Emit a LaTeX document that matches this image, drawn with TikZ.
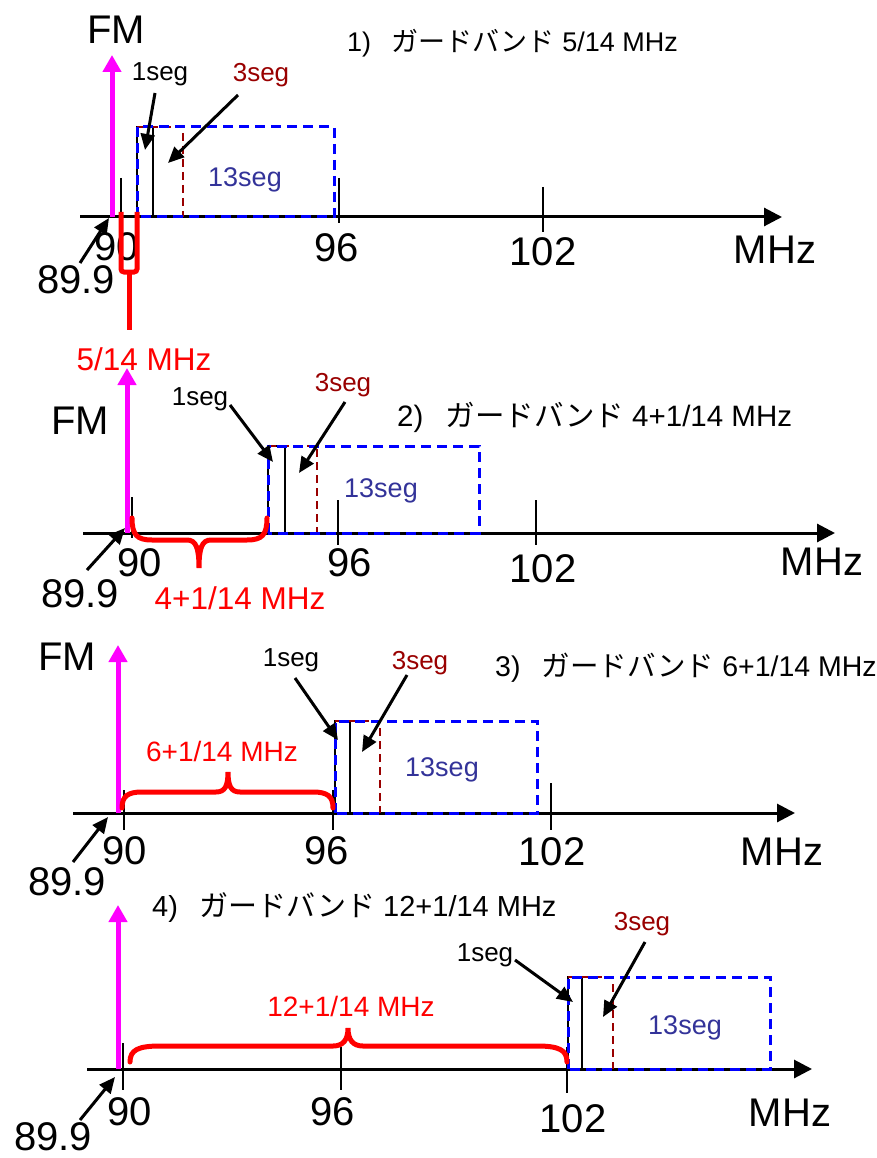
\documentclass[tikz,border=0pt]{standalone}
\usepackage{fontspec}
\setmainfont{Liberation Sans}
\newfontfamily\cjk{Noto Sans CJK JP}
\usetikzlibrary{arrows.meta}
\definecolor{darkred}{RGB}{153,0,0}
\definecolor{segblue}{RGB}{51,51,153}
\definecolor{fmmag}{RGB}{255,0,255}
\definecolor{bandred}{RGB}{255,0,0}
\definecolor{dashblue}{RGB}{0,0,255}
\tikzset{
  axisline/.style={line width=3pt,-{Triangle[length=18pt,width=18pt]}},
  tickline/.style={line width=2pt},
  fmarrow/.style={draw=fmmag,line width=5pt,-{Triangle[length=17pt,width=18pt]}},
  ptr/.style={line width=3pt,-{Triangle[length=16pt,width=14pt]}},
  segone/.style={line width=2.2pt},
  segthree/.style={draw=darkred,line width=2.8pt,dash pattern=on 8pt off 5pt},
  segthirteen/.style={draw=dashblue,line width=3pt,dash pattern=on 10pt off 6pt},
  bandbrace/.style={draw=bandred,line width=5pt,line cap=round},
  big/.style={font=\fontsize{40}{40}\selectfont,inner sep=0pt,text depth=0pt},
  seglbl/.style={font=\fontsize{26}{26}\selectfont,inner sep=0pt,text depth=0pt},
  thirteen/.style={font=\fontsize{27}{27}\selectfont,inner sep=0pt,text depth=0pt,text=segblue},
  redlbl/.style={font=\fontsize{28}{28}\selectfont,inner sep=0pt,text depth=0pt,text=bandred},
  titlelbl/.style={inner sep=0pt,text depth=0pt,anchor=west},
}
\begin{document}
\begin{tikzpicture}[x=1pt,y=-1pt]
\useasboundingbox (0,0) rectangle (877,1158);

% ================= Panel 1 =================
\coordinate (ax1s) at (80,217); \coordinate (ax1e) at (782,217);
\draw[axisline] (ax1s) -- (ax1e);
\coordinate (k1a) at (121,178); \coordinate (k1b) at (121,217);
\coordinate (k1c) at (339,178); \coordinate (k1d) at (339,223);
\coordinate (k1e) at (543,187); \coordinate (k1f) at (543,232);
\draw[tickline] (k1a) -- (k1b); \draw[tickline] (k1c) -- (k1d); \draw[tickline] (k1e) -- (k1f);
\draw[segone] (137,217) rectangle (153,127);
\draw[segthree] (137,127) -- (183,127) -- (183,217);
\draw[segthirteen] (137,217) rectangle (334,127);
\node[big] (fm1) at (116,30) {FM};
\node[titlelbl,font=\fontsize{27}{27}\selectfont] (title1) at (347,40) {1)\hspace{0.75em}{\cjk ガードバンド} 5/14 MHz};
\node[big] (n90a) at (117,247) {90};
\node[big] (n96a) at (337,248) {96};
\node[big] (n102a) at (543,252) {102};
\node[big] (mhza) at (775,250) {MHz};
\node[big] (n899a) at (76,280) {89.9};
\node[thirteen] (s13a) at (245,177) {13seg};
\node[seglbl] (s1a) at (160,72) {1seg};
\node[seglbl,text=darkred] (s3a) at (261,72) {3seg};
\coordinate (p1a) at (155,93); \coordinate (q1a) at (145,150);
\coordinate (p3a) at (238,95); \coordinate (q3a) at (168,163);
\draw[ptr] (p1a) -- (q1a);
\draw[ptr] (p3a) -- (q3a);
\coordinate (fb1) at (112,217); \coordinate (ft1) at (112,55);
\draw[fmarrow] (fb1) -- (ft1);
\coordinate (g1s) at (80,263); \coordinate (g1t) at (109,218);
\draw[ptr] (g1s) -- (g1t);
\draw[bandbrace,rounded corners=3pt,line cap=butt] (121,212) -- (121,272) -- (137,272) -- (137,212);
\draw[bandbrace,line cap=butt] (129,272) -- (129,330);
\node[redlbl,font=\fontsize{31.5}{31.5}\selectfont] (r1) at (144,359) {5/14 MHz};

% ================= Panel 2 =================
\coordinate (ax2s) at (83,533); \coordinate (ax2e) at (835,533);
\draw[axisline] (ax2s) -- (ax2e);
\coordinate (k2a) at (132,497); \coordinate (k2b) at (132,538);
\coordinate (k2c) at (338,500); \coordinate (k2d) at (338,545);
\coordinate (k2e) at (536,500); \coordinate (k2f) at (536,545);
\draw[tickline] (k2a) -- (k2b); \draw[tickline] (k2c) -- (k2d); \draw[tickline] (k2e) -- (k2f);
\draw[segone] (268,533) rectangle (285,446);
\draw[segthree] (268,446) -- (317,446) -- (317,533);
\draw[segthirteen] (268,533) rectangle (479,446);
\node[big] (fm2) at (80,421) {FM};
\node[titlelbl,font=\fontsize{29.5}{29.5}\selectfont] (title2) at (397,414) {2)\hspace{0.75em}{\cjk ガードバンド} 4+1/14 MHz};
\node[big] (n90b) at (140,563) {90};
\node[big] (n96b) at (350,563) {96};
\node[big] (n102b) at (543,569) {102};
\node[big] (mhzb) at (822,562) {MHz};
\node[big] (n899b) at (80,594) {89.9};
\node[thirteen] (s13b) at (381,488) {13seg};
\node[seglbl] (s1b) at (200,397) {1seg};
\node[seglbl,text=darkred] (s3b) at (343,382) {3seg};
\coordinate (p1b) at (230,405); \coordinate (q1b) at (273,462);
\coordinate (p3b) at (345,402); \coordinate (q3b) at (299,473);
\draw[ptr] (p1b) -- (q1b);
\draw[ptr] (p3b) -- (q3b);
\coordinate (fb2) at (127,533); \coordinate (ft2) at (127,368);
\draw[fmarrow] (fb2) -- (ft2);
\coordinate (g2s) at (87,570); \coordinate (g2t) at (125,528);
\draw[ptr] (g2s) -- (g2t);
\draw[bandbrace] (132,518) .. controls (132,535) and (137,540) .. (152,540) -- (187,540) .. controls (196,540) and (199,548) .. (199,568) .. controls (199,548) and (202,540) .. (211,540) -- (247,540) .. controls (262,540) and (267,535) .. (267,518);
\node[redlbl,font=\fontsize{31.5}{31.5}\selectfont] (r2) at (240,598) {4+1/14 MHz};

% ================= Panel 3 =================
\coordinate (ax3s) at (73,813); \coordinate (ax3e) at (795,813);
\draw[axisline] (ax3s) -- (ax3e);
\coordinate (k3a) at (124,790); \coordinate (k3b) at (124,830);
\coordinate (k3c) at (333,790); \coordinate (k3d) at (333,830);
\coordinate (k3e) at (551,783); \coordinate (k3f) at (551,830);
\draw[tickline] (k3a) -- (k3b); \draw[tickline] (k3c) -- (k3d); \draw[tickline] (k3e) -- (k3f);
\draw[segone] (335,813) rectangle (350,721);
\draw[segthree] (335,721) -- (380,721) -- (380,813);
\draw[segthirteen] (335,813) rectangle (537,721);
\node[big] (fm3) at (67,657) {FM};
\node[titlelbl,font=\fontsize{28.5}{28.5}\selectfont] (title3) at (495,665) {3)\hspace{0.75em}{\cjk ガードバンド} 6+1/14 MHz};
\node[big] (n90c) at (125,851) {90};
\node[big] (n96c) at (327,851) {96};
\node[big] (n102c) at (552,852) {102};
\node[big] (mhzc) at (782,852) {MHz};
\node[big] (n899c) at (67,882) {89.9};
\node[thirteen] (s13c) at (442,767) {13seg};
\node[seglbl] (s1c) at (291,658) {1seg};
\node[seglbl,text=darkred] (s3c) at (420,660) {3seg};
\coordinate (p1c) at (295,678); \coordinate (q1c) at (338,740);
\coordinate (p3c) at (407,675); \coordinate (q3c) at (362,752);
\draw[ptr] (p1c) -- (q1c);
\draw[ptr] (p3c) -- (q3c);
\coordinate (fb3) at (118,813); \coordinate (ft3) at (118,645);
\draw[fmarrow] (fb3) -- (ft3);
\coordinate (g3s) at (73,862); \coordinate (g3t) at (108,817);
\draw[ptr] (g3s) -- (g3t);
\draw[bandbrace] (122,808) .. controls (122,796) and (128,792) .. (142,792) -- (216,792) .. controls (225,792) and (228,786) .. (228,772) .. controls (228,786) and (231,792) .. (240,792) -- (313,792) .. controls (327,792) and (333,796) .. (333,808);
\node[redlbl] (r3) at (222,751) {6+1/14 MHz};

% ================= Panel 4 =================
\coordinate (ax4s) at (87,1069); \coordinate (ax4e) at (812,1069);
\draw[axisline] (ax4s) -- (ax4e);
\coordinate (k4a) at (123,1043); \coordinate (k4b) at (123,1090);
\coordinate (k4c) at (341,1047); \coordinate (k4d) at (341,1090);
\coordinate (k4e) at (567,1047); \coordinate (k4f) at (567,1093);
\draw[tickline] (k4a) -- (k4b); \draw[tickline] (k4c) -- (k4d); \draw[tickline] (k4e) -- (k4f);
\draw[segone] (568,1069) rectangle (582,977);
\draw[segthree] (568,977) -- (613,977) -- (613,1069);
\draw[segthirteen] (568,1069) rectangle (770,977);
\node[titlelbl,font=\fontsize{29}{29}\selectfont] (title4) at (152,905) {4)\hspace{0.75em}{\cjk ガードバンド} 12+1/14 MHz};
\node[big] (n90d) at (130,1112) {90};
\node[big] (n96d) at (333,1112) {96};
\node[big] (n102d) at (573,1119) {102};
\node[big] (mhzd) at (790,1113) {MHz};
\node[big] (n899d) at (53,1137) {89.9};
\node[thirteen] (s13d) at (685,1025) {13seg};
\node[seglbl] (s1d) at (485,953) {1seg};
\node[seglbl,text=darkred] (s3d) at (642,921) {3seg};
\coordinate (p1d) at (515,960); \coordinate (q1d) at (573,1002);
\coordinate (p3d) at (645,942); \coordinate (q3d) at (603,1017);
\draw[ptr] (p1d) -- (q1d);
\draw[ptr] (p3d) -- (q3d);
\coordinate (fb4) at (118,1069); \coordinate (ft4) at (118,905);
\draw[fmarrow] (fb4) -- (ft4);
\coordinate (g4s) at (80,1120); \coordinate (g4t) at (115,1077);
\draw[ptr] (g4s) -- (g4t);
\draw[bandbrace] (130,1062) .. controls (130,1050) and (138,1046) .. (160,1046) -- (333,1046) .. controls (343,1046) and (348,1040) .. (348,1028) .. controls (348,1040) and (353,1046) .. (363,1046) -- (537,1046) .. controls (559,1046) and (567,1050) .. (567,1062);
\node[redlbl] (r4) at (351,1006) {12+1/14 MHz};
\end{tikzpicture}
\end{document}
